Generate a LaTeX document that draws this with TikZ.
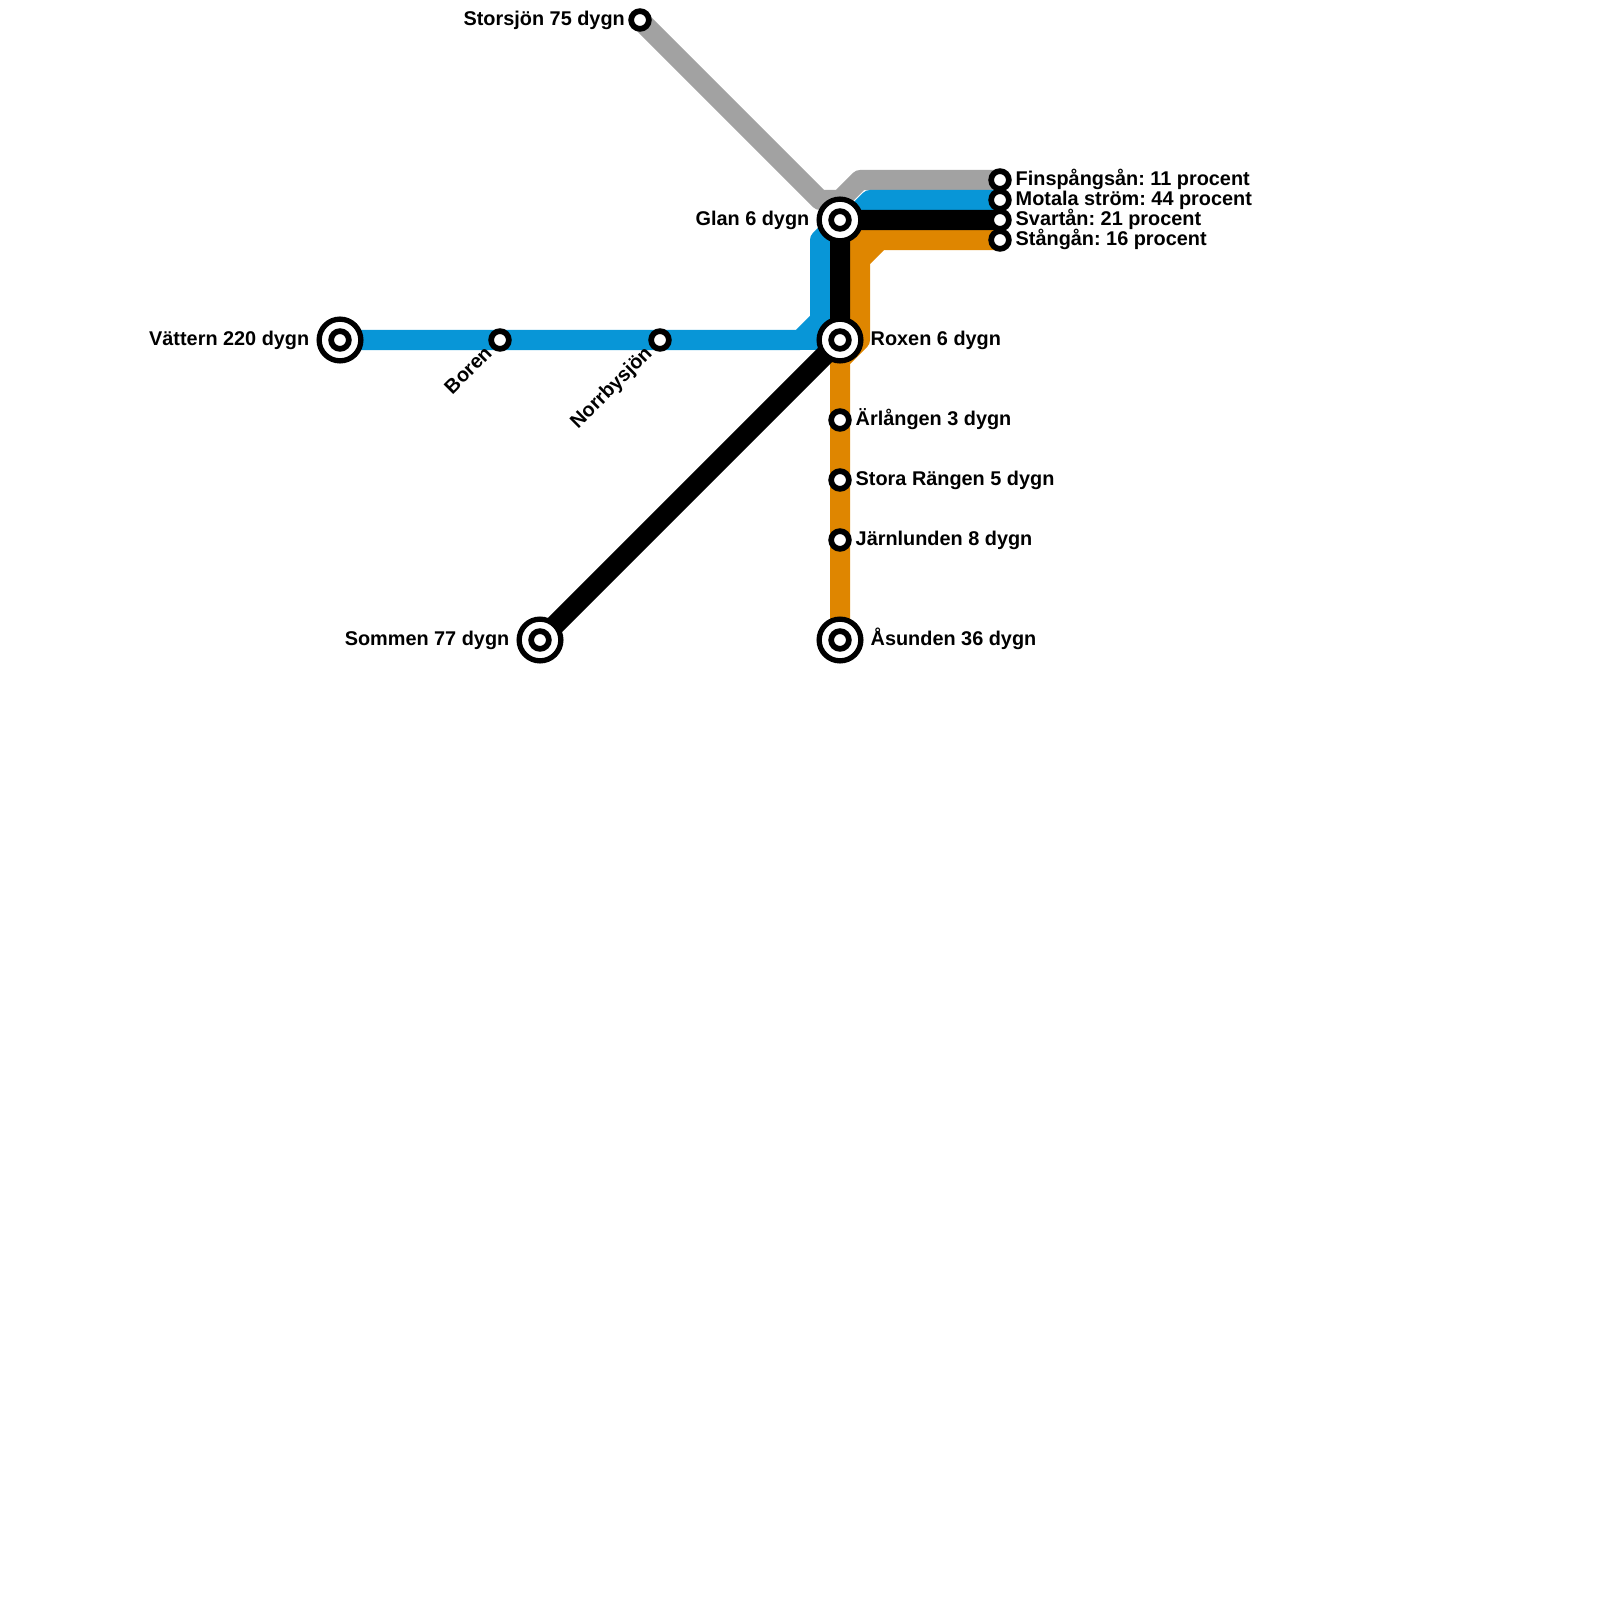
\documentclass[tikz,border=0pt]{standalone}
\usepackage{fontspec}
\setmainfont{Liberation Sans}
\usetikzlibrary{calc,backgrounds}
\definecolor{lineblue}{HTML}{0896D7}
\definecolor{lineorange}{HTML}{DF8600}
\definecolor{linegray}{HTML}{A2A2A2}
\tikzset{
  flow/.style={line width=0.2cm,line join=round},
  stop/.style={circle,draw=black,fill=white,line width=0.057cm,minimum size=0.177cm,inner sep=0pt},
  hub/.style={circle,draw=black,fill=white,line width=0.053cm,minimum size=0.417cm,inner sep=0pt},
  lake/.style={inner sep=0pt,font=\fontsize{5.65pt}{7pt}\selectfont\bfseries\frenchspacing}
}
\begin{document}
\begin{tikzpicture}[x=0.01cm,y=-0.01cm]
\useasboundingbox (0,0) rectangle (1600,1600);
\foreach \n/\x/\y in {vattern/340/340, sommen/540/640, glan/840/220, roxen/840/340, asunden/840/640} {
  \node[hub] (\n) at (\x,\y) {};
  \node[stop] (\n-in) at (\x,\y) {};
}
\foreach \n/\x/\y in {storsjon/640/20, boren/500/340, norrby/660/340, arlangen/840/420, rangen/840/480, jarnlunden/840/540, finspang/1000/180, motala/1000/200, svartan/1000/220, stangan/1000/240} {
  \node[stop] (\n) at (\x,\y) {};
}
% bends
\coordinate (g1) at (820,200);
\coordinate (g2) at (840,200);
\coordinate (g3) at (860,180);
\coordinate (b1) at (800,340);
\coordinate (b2) at (820,320);
\coordinate (b3) at (820,240);
\coordinate (b4) at (850,220);
\coordinate (b5) at (870,200);
\coordinate (o1) at (880,240);
\coordinate (o2) at (860,260);
\coordinate (o3) at (860,340);
\coordinate (o4) at (840,360);
\coordinate (o5) at (860,240);
\coordinate (o6) at (840,240);
\begin{scope}[on background layer]
\draw[flow,linegray] (storsjon.center) -- (g1) -- (g2) -- (g3) -- (finspang.center);
\draw[flow,lineblue] (vattern.center) -- (boren.center) -- (norrby.center) -- (b1) -- (b2) -- (b3) -- (glan.center) -- (b4) -- (b5) -- (motala.center);
\draw[flow,lineblue] (b1) -- (roxen.center);
\draw[flow,lineorange] (stangan.center) -- (o1) -- (o2) -- (o3) -- (o4) -- (arlangen.center) -- (rangen.center) -- (jarnlunden.center) -- (asunden.center);
\draw[flow,lineorange] (o1) -- (o6);
\draw[flow,lineorange] (o5) -- (o2);
\draw[flow,black] (svartan.center) -- (glan.center) -- (roxen.center) -- (sommen.center);
\end{scope}
% labels
\foreach \n/\t in {roxen/Roxen 6 dygn, asunden/Åsunden 36 dygn} {
  \node[lake,anchor=base west] (\n-t) at ($(\n)+(30,5)$) {\t};
}
\foreach \n/\t/\d in {vattern/Vättern 220 dygn/5, sommen/Sommen 77 dygn/5, glan/Glan 6 dygn/5.4} {
  \node[lake,anchor=base east] (\n-t) at ($(\n)+(-30,\d)$) {\t};
}
\foreach \n/\t in {arlangen/Ärlången 3 dygn, rangen/Stora Rängen 5 dygn, jarnlunden/Järnlunden 8 dygn} {
  \node[lake,anchor=base west] (\n-t) at ($(\n)+(15,5)$) {\t};
}
\foreach \n/\t in {finspang/Finspångsån: 11 procent, motala/Motala ström: 44 procent, svartan/Svartån: 21 procent, stangan/Stångån: 16 procent} {
  \node[lake,anchor=base west] (\n-t) at ($(\n)+(15,5.4)$) {\t};
}
\node[lake,anchor=base east] (storsjon-t) at ($(storsjon)+(-14.5,5.8)$) {Storsjön 75 dygn};
\foreach \n/\t in {boren/Boren, norrby/Norrbysjön} {
  \node[lake,anchor=base east,rotate=45] (\n-t) at ($(\n)+(-6.5,14)$) {\t};
}
\end{tikzpicture}
\end{document}
